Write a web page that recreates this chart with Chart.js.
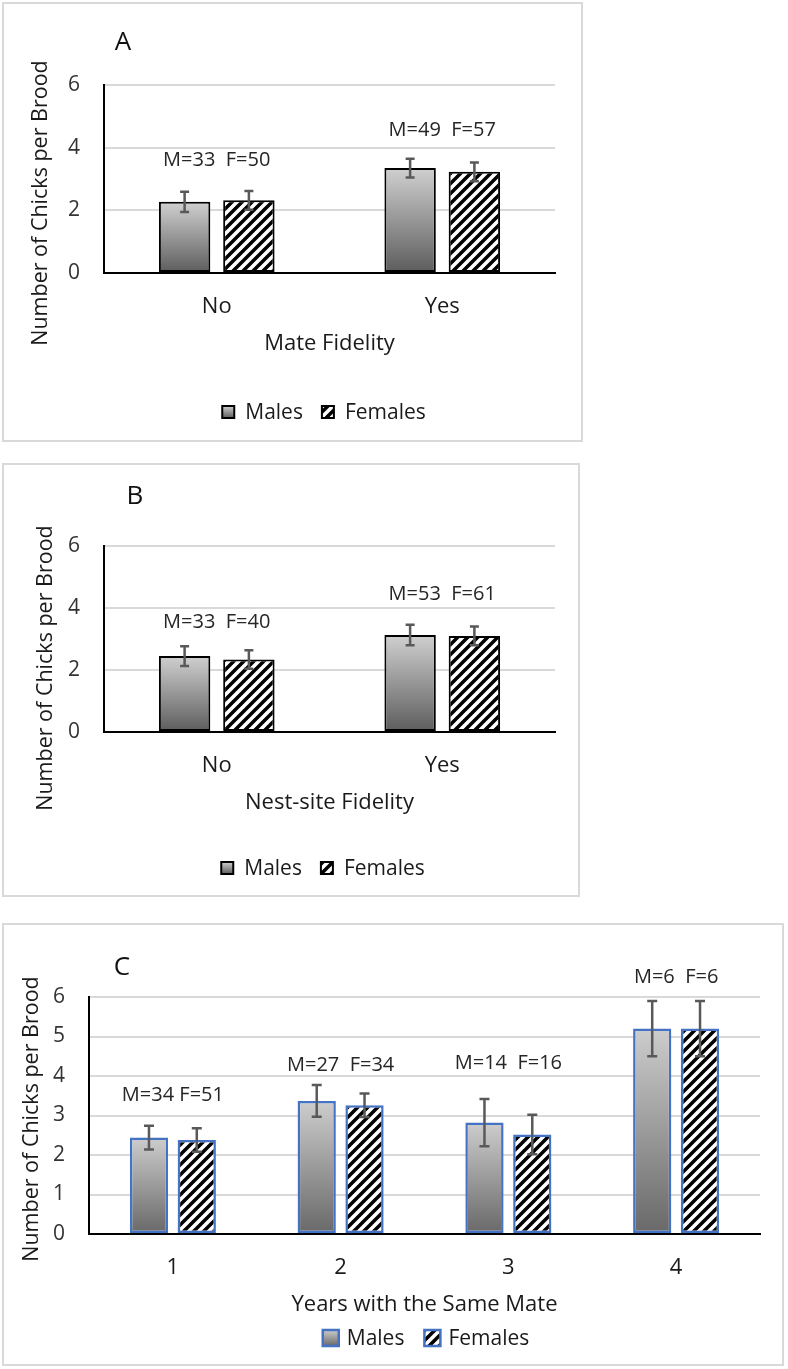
<!DOCTYPE html>
<html>
<head>
<meta charset="utf-8">
<title>Chicks per brood</title>
<script src="https://cdn.jsdelivr.net/npm/chart.js@4.4.1/dist/chart.umd.min.js"></script>
<style>
  body { margin: 0; background: #fff; width: 788px; height: 1369px; position: relative; overflow: hidden; }
  .panel { position: absolute; box-sizing: border-box; border: 2px solid #d9d9d9; }
  .panel canvas { position: absolute; left: -2px; top: -2px; }
</style>
</head>
<body>
<script>
// --- DATA ---
const seriesNames = ['Males', 'Females'];

const categoriesA = ['No', 'Yes'];
const malesA = [2.27, 3.35];
const femalesA = [2.32, 3.23];
const malesErrA = [0.32, 0.3];
const femalesErrA = [0.3, 0.3];
const countsA = ['M=33  F=50', 'M=49  F=57'];
const countsAtA = [3.6, 4.55];   // label height, in y units

const categoriesB = ['No', 'Yes'];
const malesB = [2.45, 3.13];
const femalesB = [2.34, 3.1];
const malesErrB = [0.32, 0.33];
const femalesErrB = [0.3, 0.3];
const countsB = ['M=33  F=40', 'M=53  F=61'];
const countsAtB = [3.55, 4.45];

const categoriesC = ['1', '2', '3', '4'];
const malesC = [2.44, 3.37, 2.82, 5.2];
const femalesC = [2.38, 3.26, 2.52, 5.2];
const malesErrC = [0.3, 0.4, 0.6, 0.7];
const femalesErrC = [0.3, 0.3, 0.5, 0.7];
const countsC = ['M=34 F=51', 'M=27  F=34', 'M=14  F=16', 'M=6  F=6'];
const countsAtC = [3.52, 4.28, 4.33, 6.5];

const yTicksAB = [0, 2, 4, 6];
const yTicksC = [0, 1, 2, 3, 4, 5, 6];

const FONT = '"Open Sans", "DejaVu Sans", sans-serif';

// --- FILLS ---
function hatch(size, lw) {
    const c = document.createElement('canvas');
    c.width = c.height = size;
    const g = c.getContext('2d');
    g.fillStyle = '#fff';
    g.fillRect(0, 0, size, size);
    g.strokeStyle = '#000';
    g.lineWidth = lw;
    g.beginPath();
    g.moveTo(0, size); g.lineTo(size, 0);
    g.moveTo(-size / 2, size / 2); g.lineTo(size / 2, -size / 2);
    g.moveTo(size / 2, size * 1.5); g.lineTo(size * 1.5, size / 2);
    g.stroke();
    return g.createPattern(c, 'repeat');
}

function gradFill(colors) {
    return c => {
        const chart = c.chart, y = chart.scales.y;
        if (c.type !== 'data' || !chart.chartArea || !y) return colors[1];
        const top = y.getPixelForValue(c.raw), bot = y.getPixelForValue(0);
        const g = chart.ctx.createLinearGradient(0, top, 0, bot);
        g.addColorStop(0, colors[0]);
        g.addColorStop(1, colors[1]);
        return g;
    };
}

// --- EXTRAS: error bars, n labels, panel letter, y title, legend ---
function extras(p) {
    return {
        id: 'extras' + p.letter,
        afterDatasetsDraw(chart) {
            const { ctx, scales: { y } } = chart;
            ctx.save();
            ctx.strokeStyle = '#595959';
            ctx.lineWidth = 2.5;
            chart.data.datasets.forEach((ds, i) => {
                chart.getDatasetMeta(i).data.forEach((bar, j) => {
                    const v = ds.data[j], e = ds.err[j];
                    const yt = y.getPixelForValue(v + e), yb = y.getPixelForValue(v - e);
                    ctx.beginPath();
                    ctx.moveTo(bar.x, yt); ctx.lineTo(bar.x, yb);
                    ctx.moveTo(bar.x - p.cap, yt); ctx.lineTo(bar.x + p.cap, yt);
                    ctx.moveTo(bar.x - p.cap, yb); ctx.lineTo(bar.x + p.cap, yb);
                    ctx.stroke();
                });
            });
            ctx.restore();
        },
        afterDraw(chart) {
            const { ctx, scales: { x, y } } = chart;
            ctx.save();
            ctx.textAlign = 'center';
            ctx.textBaseline = 'middle';

            // sample sizes
            ctx.fillStyle = '#262626';
            ctx.font = '20px ' + FONT;
            p.counts.forEach((t, j) => {
                ctx.fillText(t, x.getPixelForValue(j), y.getPixelForValue(p.countsAt[j]));
            });

            // panel letter
            ctx.fillStyle = '#111';
            ctx.font = '26px ' + FONT;
            ctx.fillText(p.letter, p.letterAt[0], p.letterAt[1]);

            // y title
            ctx.save();
            ctx.font = '21.5px ' + FONT;
            ctx.fillStyle = '#1a1a1a';
            ctx.translate(p.yTitleAt[0], p.yTitleAt[1]);
            ctx.rotate(-Math.PI / 2);
            ctx.fillText('Number of Chicks per Brood', 0, 0);
            ctx.restore();

            // legend
            ctx.font = '21px ' + FONT;
            ctx.textAlign = 'left';
            const bs = p.legendBox;
            const widths = seriesNames.map(n => ctx.measureText(n).width);
            const total = widths.reduce((s, w) => s + bs + p.legendGap + w, 0) + p.legendItemGap * (widths.length - 1);
            let lx = p.legendAt[0] - total / 2;
            const ly = p.legendAt[1];
            seriesNames.forEach((n, i) => {
                const top = ly - bs / 2;
                if (i === 0) {
                    const g = ctx.createLinearGradient(0, top, 0, top + bs);
                    g.addColorStop(0, p.grad[0]);
                    g.addColorStop(1, p.grad[1]);
                    ctx.fillStyle = g;
                } else {
                    ctx.fillStyle = p.stripes;
                }
                ctx.fillRect(lx, top, bs, bs);
                ctx.strokeStyle = p.edge;
                ctx.lineWidth = p.edgeWidth;
                ctx.strokeRect(lx, top, bs, bs);
                ctx.fillStyle = '#1a1a1a';
                ctx.fillText(n, lx + bs + p.legendGap, ly + 1);
                lx += bs + p.legendGap + widths[i] + p.legendItemGap;
            });
            ctx.restore();
        }
    };
}

// --- PANEL BUILDER ---
function makePanel(p) {
    const wrap = document.createElement('div');
    wrap.className = 'panel';
    wrap.style.left = p.box[0] + 'px';
    wrap.style.top = p.box[1] + 'px';
    wrap.style.width = p.box[2] + 'px';
    wrap.style.height = p.box[3] + 'px';
    const cv = document.createElement('canvas');
    cv.width = p.box[2];
    cv.height = p.box[3];
    wrap.appendChild(cv);
    document.body.appendChild(wrap);

    p.stripes = hatch(10, 3.5);
    const a = p.area;
    const xHeight = 84;

    return new Chart(cv, {
        type: 'bar',
        data: {
            labels: p.categories,
            datasets: [
                { label: seriesNames[0], data: p.males, err: p.malesErr, backgroundColor: gradFill(p.grad),
                  borderColor: p.edge, borderWidth: p.edgeWidth, borderSkipped: false },
                { label: seriesNames[1], data: p.females, err: p.femalesErr, backgroundColor: p.stripes,
                  borderColor: p.edge, borderWidth: p.edgeWidth, borderSkipped: false }
            ]
        },
        options: {
            responsive: false,
            animation: false,
            devicePixelRatio: 1,
            categoryPercentage: 0.57,
            barPercentage: 0.8,
            layout: { padding: { left: 0, top: a.top, right: p.box[2] - a.right, bottom: p.box[3] - a.bottom - xHeight } },
            plugins: { legend: { display: false }, tooltip: { enabled: false } },
            scales: {
                x: {
                    grid: { display: false, drawTicks: false },
                    border: { display: true, color: '#000', width: 2 },
                    ticks: { padding: 21, color: '#1a1a1a', font: { family: FONT, size: 22 } },
                    title: { display: true, text: p.xTitle, color: '#1a1a1a', padding: 0, font: { family: FONT, size: 22 } },
                    afterFit: s => { s.height = xHeight; }
                },
                y: {
                    min: 0,
                    max: 6,
                    afterBuildTicks: s => { s.ticks = p.yTicks.map(v => ({ value: v })); },
                    grid: { color: c => (c.tick && c.tick.value === 0) ? 'rgba(0,0,0,0)' : '#d9d9d9', lineWidth: 2, drawTicks: false },
                    border: { display: true, color: '#000', width: 2 },
                    ticks: { padding: 24, color: '#333', font: { family: FONT, size: 21 } },
                    afterFit: s => { s.width = a.left; }
                }
            }
        },
        plugins: [extras(p)]
    });
}

const blackStyle = { edge: '#000', edgeWidth: 2, grad: ['#d0d0d0', '#5c5c5c'], legendBox: 12, legendGap: 11, legendItemGap: 19, cap: 4.5 };
const blueStyle = { edge: '#4472c4', edgeWidth: 2.5, grad: ['#cdcdcd', '#686868'], legendBox: 16, legendGap: 8, legendItemGap: 20, cap: 5 };

makePanel(Object.assign({
    letter: 'A', box: [2, 2, 581, 440], area: { left: 102, right: 553, top: 83, bottom: 271 },
    letterAt: [121, 41], yTitleAt: [39, 201], legendAt: [322, 410],
    categories: categoriesA, males: malesA, females: femalesA, malesErr: malesErrA, femalesErr: femalesErrA,
    counts: countsA, countsAt: countsAtA, yTicks: yTicksAB, xTitle: 'Mate Fidelity'
}, blackStyle));

makePanel(Object.assign({
    letter: 'B', box: [2, 463, 578, 434], area: { left: 102, right: 553, top: 83, bottom: 269 },
    letterAt: [133, 34], yTitleAt: [44, 205], legendAt: [321, 405],
    categories: categoriesB, males: malesB, females: femalesB, malesErr: malesErrB, femalesErr: femalesErrB,
    counts: countsB, countsAt: countsAtB, yTicks: yTicksAB, xTitle: 'Nest-site Fidelity'
}, blackStyle));

makePanel(Object.assign({
    letter: 'C', box: [2, 923, 782, 443], area: { left: 87, right: 758, top: 74, bottom: 311 },
    letterAt: [120, 45], yTitleAt: [30, 196], legendAt: [424, 415],
    categories: categoriesC, males: malesC, females: femalesC, malesErr: malesErrC, femalesErr: femalesErrC,
    counts: countsC, countsAt: countsAtC, yTicks: yTicksC, xTitle: 'Years with the Same Mate'
}, blueStyle));
</script>
</body>
</html>
